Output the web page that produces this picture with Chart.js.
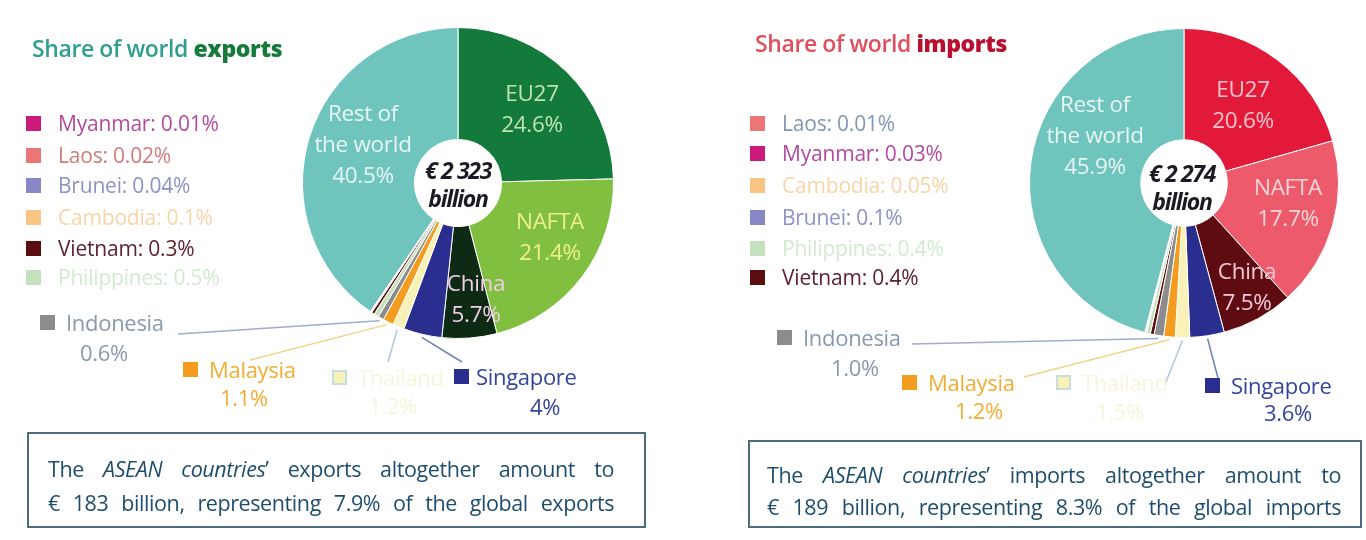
<!DOCTYPE html>
<html>
<head>
<meta charset="utf-8">
<script src="https://cdn.jsdelivr.net/npm/chart.js@4.4.0/dist/chart.umd.min.js"></script>
<style>
  body { margin: 0; background: #fff; }
  #page { position: relative; width: 1366px; height: 540px; overflow: hidden; font-family: 'Open Sans', sans-serif; }
  .panel { position: absolute; top: 0; width: 683px; height: 540px; }
  .panel canvas { position: absolute; left: 0; top: 0; }
  .txt { position: absolute; white-space: nowrap; line-height: 1; }
  .sq { position: absolute; width: 15px; height: 15px; }
  .box { position: absolute; border: 2px solid #4d6b7b; box-sizing: border-box; color: #1f4d6c; font-size: 21.5px; letter-spacing: -0.4px; }
  .box div { position: absolute; text-align: justify; text-align-last: justify; white-space: nowrap; line-height: 1; }
</style>
</head>
<body>
<div id="page">
  <div class="panel" id="p-exp" style="left:0"><canvas id="c-exp" width="683" height="540"></canvas></div>
  <div class="panel" id="p-imp" style="left:683px"><canvas id="c-imp" width="683" height="540"></canvas></div>
</div>
<script>
// --- Datos -------------------------------------------------------------------
const EXP_LABELS = ['EU27', 'NAFTA', 'China', 'Singapore', 'Thailand', 'Malaysia', 'Indonesia',
  'Philippines', 'Vietnam', 'Cambodia', 'Brunei', 'Laos', 'Myanmar', 'Rest of the world'];
const EXP_VALUES = [24.6, 21.4, 5.7, 4, 1.2, 1.1, 0.6, 0.5, 0.3, 0.1, 0.04, 0.02, 0.01, 40.5];
const EXP_TEXT = ['24.6%', '21.4%', '5.7%', '4%', '1.2%', '1.1%', '0.6%', '0.5%', '0.3%', '0.1%', '0.04%', '0.02%', '0.01%', '40.5%'];

const IMP_LABELS = ['EU27', 'NAFTA', 'China', 'Singapore', 'Thailand', 'Malaysia', 'Indonesia',
  'Vietnam', 'Philippines', 'Brunei', 'Cambodia', 'Myanmar', 'Laos', 'Rest of the world'];
const IMP_VALUES = [20.6, 17.7, 7.5, 3.6, 1.5, 1.2, 1.0, 0.4, 0.4, 0.1, 0.05, 0.03, 0.01, 45.9];
const IMP_TEXT = ['20.6%', '17.7%', '7.5%', '3.6%', '1.5%', '1.2%', '1.0%', '0.4%', '0.4%', '0.1%', '0.05%', '0.03%', '0.01%', '45.9%'];

const EXP_TOTAL = '€ 2 323';
const IMP_TOTAL = '€ 2 274';
const EXP_NOTE = ['The <i>ASEAN countries</i>\u2019 exports altogether amount to', '€ 183 billion, representing 7.9% of the global exports'];
const IMP_NOTE = ['The <i>ASEAN countries</i>\u2019 imports altogether amount to', '€ 189 billion, representing 8.3% of the global imports'];

// --- Colores -------------------------------------------------------------------
const COLORS = {
  Singapore: '#2a2e8e', Thailand: '#f8f2b8', Malaysia: '#f39c1e', Indonesia: '#8c8c8c',
  Philippines: '#c3e2bd', Vietnam: '#5c0d10', Cambodia: '#fac484', Brunei: '#8787c6',
  Laos: '#ec7575', Myanmar: '#cc1a7a', 'Rest of the world': '#6fc4be'
};
const EXP_MAIN = { EU27: '#137a3c', NAFTA: '#80bf3f', China: '#0c2a14' };
const IMP_MAIN = { EU27: '#e3193a', NAFTA: '#ec5a6c', China: '#5e0c12' };
const TEXT_COLORS = {
  Myanmar: '#b24aa0', Laos: '#d27a7a', Brunei: '#8e92c6', Cambodia: '#f8d5a8', Vietnam: '#5e2230',
  Philippines: '#d3ead0', Indonesia: '#8898ae', Malaysia: '#f2ad35', Thailand: '#f7f5dc', Singapore: '#34449c'
};

const colorOf = (main, name) => main[name] || COLORS[name];

// --- Helpers de texto ------------------------------------------------------------
const page = document.getElementById('page');

function addText(html, x, y, o = {}) {
  const d = document.createElement('div');
  d.className = 'txt';
  d.innerHTML = html;
  d.style.left = x + 'px';
  d.style.top = y + 'px';
  d.style.fontSize = (o.size || 19) + 'px';
  d.style.color = o.color || '#333';
  d.style.fontWeight = o.weight || 400;
  if (o.italic) d.style.fontStyle = 'italic';
  if (o.spacing != null) d.style.letterSpacing = o.spacing + 'px';
  d.style.transform = o.center ? 'translate(-50%,-50%)' : 'translate(0,-50%)';
  if (o.center) d.style.textAlign = 'center';
  page.appendChild(d);
  return d;
}

function addSquare(x, y, color, border) {
  const s = document.createElement('div');
  s.className = 'sq';
  s.style.left = (x - 7) + 'px';
  s.style.top = (y - 7) + 'px';
  s.style.background = color;
  if (border) { s.style.boxShadow = 'inset 0 0 0 2px ' + border; }
  page.appendChild(s);
}

// --- Leader lines (desde la etiqueta hasta la porción) ---------------------------
const leaderPlugin = {
  id: 'leaders',
  afterDatasetsDraw(chart, args, opts) {
    const meta = chart.getDatasetMeta(0);
    const labels = chart.data.labels;
    const ctx = chart.ctx;
    (opts.items || []).forEach((it) => {
      const arc = meta.data[labels.indexOf(it.name)];
      const p = arc.getProps(['x', 'y', 'startAngle', 'endAngle', 'outerRadius'], true);
      const mid = (p.startAngle + p.endAngle) / 2;
      const r = p.outerRadius + 3;
      ctx.save();
      ctx.strokeStyle = it.color;
      ctx.lineWidth = 1.5;
      ctx.beginPath();
      ctx.moveTo(it.from[0], it.from[1]);
      ctx.lineTo(p.x + Math.cos(mid) * r, p.y + Math.sin(mid) * r);
      ctx.stroke();
      ctx.restore();
    });
  }
};

function makePie(id, labels, values, main, padding, leaders) {
  return new Chart(document.getElementById(id), {
    type: 'doughnut',
    data: {
      labels,
      datasets: [{
        data: values,
        backgroundColor: labels.map((l) => colorOf(main, l)),
        borderColor: '#ffffff',
        borderWidth: 1,
      }],
    },
    options: {
      responsive: false,
      animation: false,
      cutout: '28%',
      layout: { padding },
      plugins: { legend: { display: false }, tooltip: { enabled: false }, leaders: { items: leaders } },
    },
    plugins: [leaderPlugin],
  });
}

// --- Un panel (exportaciones o importaciones) -----------------------------------
function buildPanel(cfg) {
  const { labels, values, text, main, ox } = cfg;
  const pct = (n) => text[labels.indexOf(n)];

  // título
  addText(`Share of world <span style="color:${cfg.titleStrong};font-weight:800">${cfg.word}</span>`,
    cfg.title[0], cfg.title[1], { size: 23, weight: 600, color: cfg.titleColor, spacing: -0.4 });

  // leyenda izquierda
  cfg.legend.forEach((n, i) => {
    const y = cfg.legendY[i];
    addSquare(cfg.legendX, y, colorOf(main, n));
    addText(`${n}: ${pct(n)}`, cfg.legendX + 25, y,
      { size: 21, color: (cfg.textOverride && cfg.textOverride[n]) || TEXT_COLORS[n], spacing: -0.2 });
  });

  // callouts inferiores
  const leaders = [];
  cfg.callouts.forEach((c) => {
    addSquare(c.sq[0], c.sq[1], colorOf(main, c.name), c.name === 'Thailand' ? '#c9dde0' : null);
    addText(c.name, c.sq[0] + (c.gap || 19), c.sq[1], { size: 22, color: TEXT_COLORS[c.name], spacing: -0.3 });
    addText(pct(c.name), c.val[0], c.val[1], { size: 22, color: TEXT_COLORS[c.name], center: true, spacing: -0.3 });
    leaders.push({ name: c.name, from: [c.from[0] - ox, c.from[1]], color: c.line });
  });

  // etiquetas dentro de la tarta
  cfg.sliceText.forEach((s) => {
    const value = pct(s.name);
    const name = s.name === 'Rest of the world' ? 'Rest of<br>the world' : s.name;
    addText(`${name}<br>${value}`, s.at[0], s.at[1],
      { size: 22.5, color: s.color, center: true, spacing: -0.3 }).style.lineHeight = '31px';
  });

  // total en el centro
  addText(`${cfg.total}<br>billion`, cfg.center[0], cfg.center[1],
    { size: 23, weight: 700, italic: true, color: '#1b1b24', center: true, spacing: -1.3 }).style.lineHeight = '28px';

  // caja de nota
  const box = document.createElement('div');
  box.className = 'box';
  Object.assign(box.style, { left: cfg.box[0] + 'px', top: cfg.box[1] + 'px', width: cfg.box[2] + 'px', height: cfg.box[3] + 'px' });
  cfg.note.forEach((line, i) => {
    const d = document.createElement('div');
    d.innerHTML = line;
    Object.assign(d.style, { left: cfg.noteX + 'px', width: cfg.noteW + 'px', top: cfg.noteY[i] + 'px' });
    box.appendChild(d);
  });
  page.appendChild(box);

  makePie(cfg.canvas, labels, values, main, cfg.padding, leaders);
}

buildPanel({
  canvas: 'c-exp', ox: 0, labels: EXP_LABELS, values: EXP_VALUES, text: EXP_TEXT, main: EXP_MAIN,
  padding: { left: 302, right: 69, top: 27, bottom: 201 },
  word: 'exports', title: [32, 48], titleColor: '#2fa08e', titleStrong: '#157a3a',
  legend: ['Myanmar', 'Laos', 'Brunei', 'Cambodia', 'Vietnam', 'Philippines'],
  legendX: 33, legendY: [123, 155, 185, 217, 248, 277],
  callouts: [
    { name: 'Indonesia', sq: [47, 322], val: [104, 352], from: [178, 334], line: '#9ab0c8' },
    { name: 'Malaysia', sq: [190, 369], val: [244, 397], from: [250, 360], line: '#efd48e' },
    { name: 'Thailand', sq: [339, 377], val: [393, 405], from: [388, 362], line: '#aac8e0' },
    { name: 'Singapore', sq: [461, 376], gap: 15, val: [545, 406], from: [462, 362], line: '#7080b0' },
  ],
  sliceText: [
    { name: 'EU27', at: [532, 108], color: '#bfe3ae' },
    { name: 'NAFTA', at: [550, 236], color: '#eef08e' },
    { name: 'China', at: [476, 298], color: '#f2cde6' },
    { name: 'Rest of the world', at: [363, 143], color: '#e6f6f3' },
  ],
  total: EXP_TOTAL, center: [458, 184],
  box: [27, 432, 619, 96], note: EXP_NOTE, noteX: 19, noteW: 566, noteY: [24, 58],
});

buildPanel({
  canvas: 'c-imp', ox: 683, labels: IMP_LABELS, values: IMP_VALUES, text: IMP_TEXT, main: IMP_MAIN,
  padding: { left: 346, right: 27, top: 28, bottom: 202 },
  word: 'imports', title: [755, 43], titleColor: '#e0505c', titleStrong: '#b8102e',
  legend: ['Laos', 'Myanmar', 'Cambodia', 'Brunei', 'Philippines', 'Vietnam'],
  legendX: 757, legendY: [123, 153, 185, 217, 248, 277],
  textOverride: { Laos: '#8396b6' },
  callouts: [
    { name: 'Indonesia', sq: [784, 337], val: [855, 367], from: [912, 344], line: '#9ab0c8' },
    { name: 'Malaysia', sq: [909, 382], val: [979, 410], from: [1024, 377], line: '#efd48e' },
    { name: 'Thailand', sq: [1063, 382], val: [1120, 411], from: [1166, 382], line: '#aac8e0' },
    { name: 'Singapore', sq: [1212, 385], val: [1288, 412], from: [1218, 378], line: '#7080b0' },
  ],
  sliceText: [
    { name: 'EU27', at: [1243, 104], color: '#f7c3cb' },
    { name: 'NAFTA', at: [1288, 202], color: '#f8d6d8' },
    { name: 'China', at: [1247, 286], color: '#f5c8d6' },
    { name: 'Rest of the world', at: [1095, 134], color: '#e6f6f3' },
  ],
  total: IMP_TOTAL, center: [1182, 187],
  box: [748, 440, 614, 88], note: IMP_NOTE, noteX: 17, noteW: 574, noteY: [22, 54],
});
</script>
</body>
</html>
